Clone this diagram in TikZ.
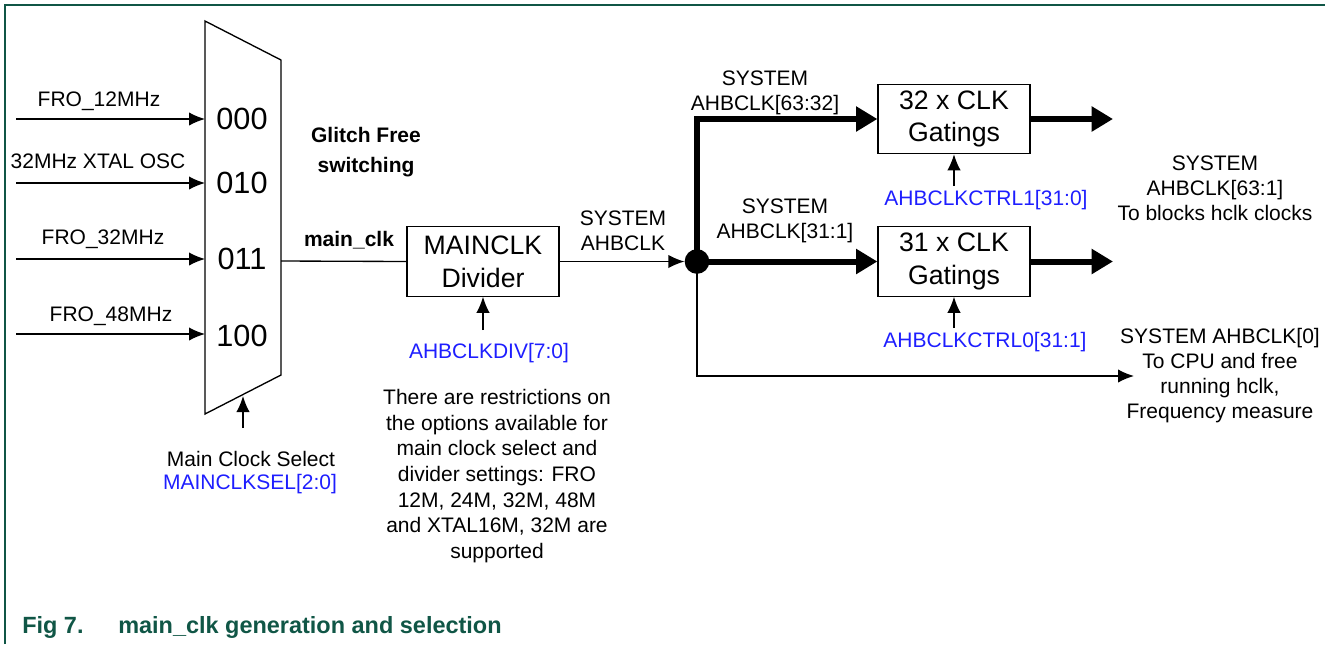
\documentclass[tikz,border=0pt]{standalone}
\usepackage{fontspec}
\setmainfont{Liberation Sans}
\usetikzlibrary{arrows.meta}

\definecolor{nxpgreen}{RGB}{16,86,70}
\definecolor{regblue}{RGB}{30,30,255}

\tikzset{
	lbl/.style = {align = center, inner sep = 0pt, font = \fontsize{15.75}{18.75}\selectfont},
	reg/.style = {lbl, text = regblue},
	caption/.style = {lbl, anchor = base west, text = nxpgreen, font = \fontsize{17.6}{20}\selectfont\bfseries},
	selcode/.style = {inner sep = 0pt, font = \fontsize{23}{26}\selectfont},
	block/.style = {draw, line width = 0.9pt, align = center, minimum width = 114pt, minimum height = 52pt, inner sep = 0pt, font = \fontsize{20}{24.5}\selectfont},
	junction/.style = {circle, fill, inner sep = 0pt, minimum size = 18.5pt},
	wire/.style = {line width = 1pt},
	bus/.style = {line width = 4.5pt},
	tip/.style = {-{Latex[length = 12pt, width = 10pt]}},
	bigtip/.style = {-{Triangle[length = 16pt, width = 18pt]}}
}

\begin{document}
\begin{tikzpicture}[x = 0.75pt, y = -0.75pt]

	\useasboundingbox (0, 0) rectangle (1325, 644);

	% Frame + caption

	\draw [nxpgreen, line width = 1.5pt] (5, 644) -- (5, 5) -- (1325, 5);

	\node [caption] (fignum) at (22, 633) {Fig 7.};
	\node [caption] (figtitle) at (118, 633) {main\_clk generation and selection};

	% Multiplexer

	\draw [wire] (205, 21) -- (281, 60) -- (281, 375) -- (205, 414) -- cycle;
	\coordinate (muxL) at (205, 0);
	\coordinate (muxOut) at (281, 261);

	\node [selcode] (s000) at (242, 119) {000};
	\node [selcode] (s010) at (242, 183) {010};
	\node [selcode] (s011) at (242, 259) {011};
	\node [selcode] (s100) at (242, 336) {100};

	% Clock sources

	\node [lbl] (fro12) at (99, 101) {FRO\_12MHz};
	\node [lbl] (xtal32) at (98, 161) {32MHz XTAL OSC};
	\node [lbl] (fro32) at (103, 239) {FRO\_32MHz};
	\node [lbl] (fro48) at (111, 316) {FRO\_48MHz};

	\coordinate (in000) at (16, 119);
	\coordinate (in010) at (16, 183);
	\coordinate (in011) at (16, 259);
	\coordinate (in100) at (16, 334);

	\draw [wire, tip] (in000) -- (in000 -| muxL);
	\draw [wire, tip] (in010) -- (in010 -| muxL);
	\draw [wire, tip] (in011) -- (in011 -| muxL);
	\draw [wire, tip] (in100) -- (in100 -| muxL);

	% Select input

	\coordinate (selTail) at (243, 428);
	\coordinate (selHead) at (243, 396);
	\draw [wire, tip] (selTail) -- (selHead);

	\node [lbl] (selname) at (251, 459) {Main Clock Select};
	\node [reg] (selreg) at (250, 484) {MAINCLKSEL[2:0]};

	\node [lbl, font = \fontsize{15.75}{23}\selectfont\bfseries] (glitch) at (366, 152) {Glitch Free\\switching};

	% Divider

	\node [block] (div) at (483, 261.5) {MAINCLK\\Divider};

	\node [lbl, font = \fontsize{15.75}{18.75}\selectfont\bfseries] (mainclk) at (349, 240) {main\_clk};
	\draw [wire] (muxOut) -- (div.west);

	\coordinate (divCtl) at (483, 330);
	\draw [wire, tip] (divCtl) -- (div.south);
	\node [reg] (divreg) at (489, 353) {AHBCLKDIV[7:0]};

	\node [lbl, font = \fontsize{15.75}{19.2}\selectfont] (note) at (497, 476) {There are restrictions on\\the options available for\\main clock select and\\divider settings: FRO\\12M, 24M, 32M, 48M\\and XTAL16M, 32M are\\supported};

	% Split point + buses

	\node [junction] (hub) at (697, 261.5) {};
	\draw [wire, tip] (div.east) -- (hub);
	\node [lbl] (sysclk) at (623, 231) {SYSTEM\\AHBCLK};

	\node [block] (gate32) at (954, 119) {32 x CLK\\Gatings};
	\node [block] (gate31) at (954, 261.5) {31 x CLK\\Gatings};

	\coordinate (busTop) at (697, 119);
	\draw [bus, bigtip] (hub.center) -- (busTop) -- (gate32.west);
	\draw [bus, bigtip] (hub.center) -- (gate31.west);

	\node [lbl] (bus63) at (765, 93) {SYSTEM\\AHBCLK[63:32]};
	\node [lbl] (bus31) at (785, 221) {SYSTEM\\AHBCLK[31:1]};

	% Gated outputs

	\coordinate (outX) at (1113, 0);
	\draw [bus, bigtip] (gate32.east) -- (gate32.east -| outX);
	\draw [bus, bigtip] (gate31.east) -- (gate31.east -| outX);

	\node [lbl] (blocks) at (1215, 188) {SYSTEM\\AHBCLK[63:1]\\To blocks hclk clocks};

	\coordinate (ctl32) at (954, 186);
	\coordinate (ctl31) at (954, 328);
	\draw [wire, tip] (ctl32) -- (gate32.south);
	\draw [wire, tip] (ctl31) -- (gate31.south);

	\node [reg] (ctrl1) at (986, 200) {AHBCLKCTRL1[31:0]};
	\node [reg] (ctrl0) at (985, 342) {AHBCLKCTRL0[31:1]};

	% Free running clock

	\coordinate (cpuEnd) at (1134, 376);
	\draw [wire, tip] (hub.center) -- (hub |- cpuEnd) -- (cpuEnd);

	\node [lbl] (cpu) at (1220, 376) {SYSTEM AHBCLK[0]\\To CPU and free\\running hclk,\\Frequency measure};

\end{tikzpicture}
\end{document}
